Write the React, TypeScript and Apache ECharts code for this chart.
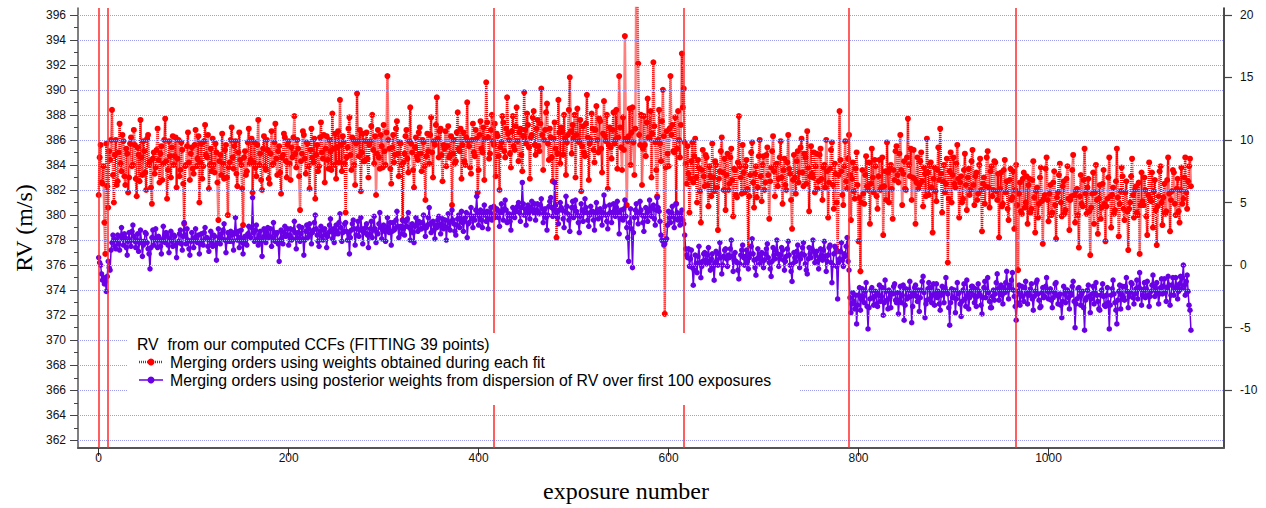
import { useEffect, useRef } from "react";
import * as echarts from "echarts";

// one stored value per exposure, starting at exposure 0
const EXPOSURE_STEP = 1;

// RV (m/s), merging orders using weights obtained during each fit
const RED_RV = [
  381.6, 384.6, 385.6, 382.6, 382.5, 383.9, 379.4, 376.9, 385.7, 382.3, 380.6, 385.1, 384.4, 386.0, 388.4, 383.2, 381.0, 384.8, 386.0, 382.4,
  382.7, 385.0, 387.3, 384.1, 383.5, 386.4, 385.9, 383.1, 382.4, 385.3, 384.9, 381.8, 383.0, 385.7, 386.2, 383.9, 384.0, 386.8, 385.6, 382.9,
  381.5, 385.4, 384.8, 382.7, 387.6, 384.6, 383.2, 385.9, 385.1, 383.4, 382.0, 386.1, 386.4, 384.0, 384.3, 382.2, 380.9, 384.5, 385.0, 383.3,
  383.8, 385.2, 386.9, 384.4, 382.6, 384.9, 385.5, 382.8, 384.1, 386.0, 387.7, 384.3, 381.3, 383.6, 385.9, 384.7, 383.0, 385.4, 386.3, 384.0,
  384.7, 386.2, 382.2, 384.5, 386.0, 383.1, 383.6, 385.8, 385.2, 382.5, 379.3, 383.9, 384.0, 385.5, 386.6, 384.2, 382.8, 384.9, 385.4, 383.7,
  383.3, 385.6, 386.8, 383.9, 384.5, 386.3, 381.0, 384.2, 385.7, 382.9, 383.9, 385.9, 387.2, 384.8, 384.6, 386.4, 382.1, 384.0, 385.3, 383.5,
  386.1, 384.0, 383.4, 385.7, 385.0, 382.6, 379.6, 384.3, 384.8, 383.2, 386.5, 384.1, 382.9, 385.2, 385.6, 383.0, 380.0, 383.8, 384.2, 386.0,
  387.0, 384.6, 383.7, 385.5, 385.9, 383.3, 382.3, 385.0, 386.6, 384.4, 384.0, 382.1, 379.2, 384.6, 385.1, 383.2, 383.5, 385.8, 386.9, 384.1,
  384.4, 386.1, 381.8, 384.2, 385.8, 383.8, 383.1, 385.6, 387.6, 384.0, 384.9, 382.8, 382.0, 385.3, 386.3, 383.9, 383.6, 386.0, 385.2, 382.9,
  382.5, 384.9, 386.7, 384.0, 384.1, 385.8, 387.3, 384.5, 383.2, 385.1, 385.5, 383.4, 381.7, 384.6, 384.8, 386.5, 386.2, 384.3, 383.0, 385.6,
  385.9, 384.1, 382.8, 385.4, 384.6, 386.2, 387.9, 384.9, 383.8, 386.0, 385.3, 383.1, 380.4, 384.3, 384.9, 386.7, 386.4, 384.5, 383.3, 385.8,
  385.7, 383.9, 382.1, 385.2, 386.9, 384.6, 384.2, 386.1, 381.3, 384.8, 385.6, 383.5, 383.9, 386.2, 387.4, 385.0, 384.5, 386.4, 382.6, 385.3,
  386.3, 384.4, 383.7, 386.0, 385.1, 383.6, 388.1, 385.3, 384.0, 386.5, 382.9, 385.4, 386.7, 384.2, 389.2, 385.6, 383.5, 386.3, 385.8, 384.1,
  380.2, 384.6, 385.4, 386.9, 387.8, 384.8, 383.6, 386.2, 386.0, 384.0, 382.4, 385.7, 389.7, 385.9, 384.7, 386.8, 381.9, 385.0, 386.5, 384.3,
  384.3, 385.9, 386.6, 384.5, 383.0, 385.6, 385.9, 387.1, 388.0, 385.2, 384.1, 386.3, 381.6, 384.9, 386.8, 384.6, 383.7, 386.4, 385.5, 383.8,
  387.2, 385.1, 384.0, 386.6, 391.1, 386.0, 385.3, 383.7, 382.5, 385.4, 386.4, 384.2, 384.8, 386.9, 387.5, 384.9, 383.1, 385.8, 385.7, 384.0,
  379.6, 384.2, 384.9, 386.3, 386.8, 384.5, 383.4, 385.9, 388.6, 385.7, 385.0, 383.6, 382.2, 385.4, 386.2, 384.7, 384.4, 386.6, 387.0, 384.9,
  383.5, 386.0, 385.8, 383.9, 381.2, 384.7, 386.5, 385.1, 384.1, 386.4, 387.8, 385.0, 383.0, 385.9, 385.6, 387.2, 389.4, 386.1, 384.6, 386.7,
  386.9, 384.8, 382.7, 385.6, 385.3, 386.7, 383.9, 385.5, 387.1, 384.6, 384.8, 386.3, 380.8, 384.9, 386.0, 384.1, 384.3, 386.6, 388.2, 385.3,
  385.1, 386.9, 382.9, 385.6, 386.6, 384.3, 384.0, 386.2, 389.0, 385.9, 385.5, 383.8, 383.3, 386.0, 387.3, 385.0, 384.7, 386.8, 386.1, 381.8,
  383.6, 386.4, 387.5, 385.3, 385.0, 387.0, 382.8, 386.1, 390.6, 387.4, 386.2, 384.5, 384.9, 386.8, 388.0, 385.9, 385.6, 387.3, 383.1, 386.5,
  386.3, 384.7, 382.0, 385.4, 385.8, 387.9, 387.4, 385.1, 384.6, 386.9, 389.4, 386.5, 386.0, 384.9, 383.8, 386.7, 387.9, 385.5, 385.2, 387.1,
  388.6, 385.9, 384.3, 386.6, 386.9, 384.8, 383.5, 386.3, 389.8, 386.8, 385.7, 388.1, 387.2, 385.4, 382.9, 386.2, 386.4, 387.8, 388.3, 385.6,
  384.8, 386.9, 387.6, 385.5, 385.1, 387.3, 390.1, 386.4, 383.6, 386.0, 386.8, 388.2, 388.9, 385.7, 384.4, 386.9, 386.2, 384.6, 382.7, 386.1,
  387.4, 385.3, 378.2, 384.9, 389.2, 386.6, 384.1, 387.0, 386.7, 384.8, 388.0, 386.1, 383.2, 385.8, 386.4, 388.4, 391.0, 386.7, 384.9, 387.2,
  386.1, 388.0, 383.0, 386.4, 388.5, 385.9, 385.8, 387.6, 381.9, 385.5, 387.1, 385.0, 384.7, 387.3, 389.6, 386.2, 382.8, 385.7, 386.0, 388.1,
  386.9, 385.2, 384.2, 386.8, 388.7, 386.0, 385.0, 387.7, 387.5, 385.3, 383.4, 386.5, 389.1, 386.3, 385.9, 388.0, 382.1, 385.6, 387.0, 385.4,
  384.5, 386.8, 388.2, 385.7, 386.0, 388.4, 383.7, 386.2, 391.1, 387.0, 385.4, 383.6, 387.8, 385.2, 394.3, 386.1, 380.8, 385.9, 386.3, 388.5,
  384.0, 386.6, 388.6, 385.8, 383.2, 386.9, 398.5, 399.0, 392.1, 386.4, 385.6, 388.0, 382.4, 385.3, 387.9, 385.6, 384.7, 387.4, 389.3, 386.2,
  386.1, 388.3, 383.0, 386.5, 392.2, 387.1, 385.8, 383.6, 381.5, 386.0, 388.4, 385.7, 384.3, 387.5, 390.0, 386.3, 372.1, 383.8, 386.7, 384.9,
  383.9, 386.9, 391.1, 386.4, 387.2, 385.1, 385.0, 387.8, 380.9, 385.3, 388.3, 386.0, 384.6, 387.2, 392.9, 388.6, 390.1, 385.8, 384.1, 382.5,
  385.5, 383.3, 380.2, 382.9, 384.3, 385.8, 382.6, 384.7, 386.1, 383.0, 381.0, 384.4, 383.8, 381.9, 379.4, 383.6, 385.2, 383.1, 382.3, 384.8,
  384.6, 382.4, 380.7, 383.9, 383.1, 381.5, 385.7, 383.0, 381.9, 384.3, 384.0, 382.2, 378.8, 382.9, 383.5, 385.1, 386.2, 383.4, 382.0, 384.5,
  380.4, 383.2, 384.9, 382.0, 382.5, 384.6, 385.3, 382.8, 379.9, 383.7, 383.6, 381.6, 381.4, 384.2, 387.9, 383.9, 383.0, 381.7, 385.6, 383.4,
  381.8, 383.9, 384.4, 382.1, 376.8, 381.5, 383.2, 385.0, 385.8, 382.6, 380.6, 383.3, 383.9, 381.4, 382.2, 384.7, 386.0, 383.1, 381.1, 384.0,
  384.7, 382.0, 382.6, 384.8, 385.4, 383.2, 379.7, 382.7, 383.8, 385.1, 386.3, 383.5, 381.5, 384.0, 384.1, 382.3, 382.9, 384.6, 385.9, 383.0,
  380.9, 383.6, 384.5, 382.4, 382.0, 384.2, 386.4, 383.7, 383.3, 381.2, 378.9, 382.8, 384.8, 383.0, 381.7, 384.3, 385.1, 382.6, 383.4, 385.4,
  386.1, 383.4, 382.3, 384.9, 384.6, 382.5, 386.7, 383.8, 380.3, 383.1, 385.5, 383.3, 383.0, 385.0, 381.8, 383.9, 384.9, 382.1, 382.7, 384.8,
  385.3, 382.9, 381.2, 383.8, 384.0, 382.2, 386.0, 383.5, 379.8, 382.6, 383.7, 385.2, 385.8, 382.4, 380.5, 384.1, 383.3, 381.0, 377.1, 383.2,
  388.3, 384.4, 383.5, 381.6, 380.8, 383.9, 385.9, 382.7, 382.1, 384.5, 386.4, 383.2, 379.6, 382.9, 384.2, 381.9, 381.3, 383.7, 385.0, 382.4,
  377.9, 381.4, 375.5, 381.0, 383.6, 381.7, 380.9, 383.2, 384.7, 382.3, 382.0, 384.2, 379.3, 382.5, 385.3, 383.0, 381.8, 384.4, 383.9, 381.5,
  380.5, 383.1, 384.4, 382.0, 382.2, 384.6, 378.4, 382.3, 383.5, 381.2, 385.8, 383.4, 381.0, 383.7, 384.0, 382.1, 379.7, 383.6, 382.8, 385.1,
  385.5, 383.2, 382.6, 384.9, 386.4, 383.6, 380.8, 383.3, 384.3, 382.1, 382.0, 384.6, 387.7, 384.0, 383.1, 385.3, 381.2, 383.0, 385.2, 382.9,
  379.3, 382.6, 384.6, 382.1, 382.4, 384.3, 385.0, 382.7, 380.7, 383.8, 383.3, 381.5, 386.1, 383.4, 381.6, 384.0, 384.2, 382.2, 378.6, 382.9,
  383.8, 381.9, 381.1, 383.6, 385.4, 382.8, 386.9, 383.3, 380.2, 382.7, 384.0, 381.8, 382.5, 384.5, 376.2, 381.3, 383.5, 385.0, 381.0, 383.2,
  384.6, 382.5, 382.2, 384.1, 385.6, 382.9, 379.8, 382.6, 383.1, 381.0, 381.3, 383.6, 384.9, 382.4, 380.4, 383.0, 383.7, 381.6, 382.0, 384.3,
  385.2, 382.4, 380.8, 383.1, 383.4, 381.2, 381.7, 384.0, 384.5, 382.0, 378.7, 382.5, 383.0, 380.9, 382.3, 384.6, 385.1, 382.2, 380.6, 383.5,
  383.9, 381.5, 382.0, 384.3, 384.2, 381.9, 381.2, 383.3, 378.2, 382.1, 383.4, 380.7, 380.9, 383.6, 384.4, 381.8, 382.7, 380.5, 379.6, 382.8,
  383.7, 381.2, 381.4, 383.5, 378.9, 382.0, 384.0, 380.8, 375.6, 381.7, 382.6, 380.3, 380.1, 382.9, 383.4, 380.6, 381.0, 383.1, 379.3, 382.4,
  382.9, 380.2, 380.5, 382.8, 384.3, 381.4, 378.6, 381.9, 382.2, 379.8, 380.9, 383.0, 383.8, 381.1, 377.7, 381.3, 381.6, 383.7, 384.6, 381.2,
  379.5, 381.7, 382.4, 380.0, 380.2, 382.6, 383.5, 380.8, 378.1, 381.4, 381.8, 383.2, 384.1, 381.0, 379.9, 382.3, 382.7, 380.1, 380.4, 382.9,
  383.9, 381.3, 378.8, 381.2, 381.5, 383.6, 384.8, 381.6, 379.4, 381.9, 382.1, 380.0, 377.4, 381.5, 383.2, 380.9, 380.7, 382.8, 385.3, 381.7,
  380.1, 382.2, 382.9, 380.3, 376.8, 380.6, 381.7, 383.4, 379.3, 381.8, 384.0, 381.2, 378.5, 381.3, 382.4, 379.7, 380.6, 382.5, 383.6, 380.9,
  377.9, 380.7, 381.3, 383.0, 384.6, 381.5, 379.0, 381.6, 382.2, 380.1, 380.4, 382.7, 385.3, 381.4, 378.3, 380.9, 381.9, 383.8, 383.1, 380.5,
  379.6, 381.8, 382.7, 380.3, 377.2, 380.5, 381.0, 383.1, 384.5, 381.6, 379.8, 382.0, 382.3, 380.2, 380.0, 382.6, 376.9, 380.8, 383.4, 381.1,
  380.8, 383.0, 382.0, 379.9, 378.4, 381.6, 384.2, 381.3, 381.1, 383.4, 379.0, 381.9, 382.8, 380.4, 377.6, 380.7, 381.5, 383.5, 383.9, 381.0,
  379.2, 381.4, 382.5, 380.1, 380.3, 382.8, 384.6, 381.7, 378.7, 381.2, 381.9, 383.6, 383.4, 380.9, 380.0, 382.1, 382.9, 380.3, 379.4, 382.0,
  383.8, 380.9, 381.3, 383.0, 384.6, 381.8, 380.5, 382.7, 383.9, 384.5, 382.3,
];

// RV (m/s), merging orders using posterior weights
const PURPLE_RV = [
  376.6, 376.2, 376.0, 375.3, 374.8, 375.0, 374.5, 374.7, 373.9, 375.1, 376.3, 375.8, 375.6, 377.2, 377.8, 378.4, 378.1, 377.5, 377.3, 378.0,
  378.4, 377.7, 377.2, 378.3, 379.0, 378.1, 377.6, 378.5, 378.2, 377.4, 376.8, 377.9, 378.6, 378.0, 377.5, 378.7, 379.2, 378.3, 377.9, 377.4,
  378.0, 378.5, 377.1, 377.8, 378.8, 377.9, 376.7, 377.6, 377.9, 378.6, 378.5, 377.8, 377.3, 376.9, 375.7, 377.4, 378.2, 378.8, 377.6, 378.1,
  378.9, 378.0, 377.4, 378.3, 378.1, 377.5, 376.9, 377.9, 379.1, 378.2, 377.8, 378.6, 378.4, 377.6, 377.0, 378.1, 378.7, 377.9, 377.5, 378.4,
  378.3, 377.6, 376.6, 377.8, 377.9, 378.5, 378.8, 377.7, 377.2, 378.3, 379.4, 378.4, 377.7, 378.9, 378.0, 377.3, 376.8, 377.9, 378.6, 378.0,
  377.4, 378.2, 378.9, 378.0, 377.8, 378.4, 376.9, 377.7, 378.5, 377.9, 377.6, 378.6, 379.0, 378.1, 378.2, 377.5, 377.1, 378.0, 378.7, 377.8,
  377.5, 378.4, 378.3, 377.6, 376.4, 377.8, 378.9, 378.2, 377.7, 378.5, 378.1, 378.8, 379.3, 378.0, 377.0, 377.9, 378.6, 378.1, 377.9, 378.7,
  378.4, 377.9, 377.2, 378.6, 379.8, 378.5, 378.0, 378.7, 377.4, 378.2, 378.8, 377.8, 376.9, 378.1, 378.3, 377.7, 377.6, 378.5, 379.1, 378.3,
  378.2, 379.0, 381.4, 378.6, 377.9, 378.8, 379.2, 378.1, 377.6, 378.4, 378.7, 377.9, 376.7, 378.2, 378.9, 378.4, 377.8, 378.6, 379.0, 378.2,
  378.3, 378.9, 377.5, 378.2, 379.4, 378.6, 377.9, 378.5, 378.6, 377.7, 376.3, 378.0, 378.8, 378.2, 377.7, 378.6, 379.1, 378.3, 378.4, 378.9,
  377.6, 378.4, 378.9, 378.0, 378.1, 378.8, 379.5, 378.6, 377.3, 378.2, 378.6, 379.1, 377.9, 378.5, 379.0, 378.1, 376.8, 378.0, 378.7, 379.2,
  378.2, 378.9, 379.3, 378.5, 377.7, 378.6, 378.8, 379.4, 380.0, 378.9, 378.4, 377.9, 377.5, 378.7, 379.1, 378.3, 378.0, 378.8, 378.9, 378.4,
  377.4, 378.3, 378.6, 379.2, 379.7, 378.8, 378.1, 378.9, 377.8, 378.5, 379.2, 378.7, 378.5, 379.4, 380.1, 379.0, 377.9, 378.6, 378.7, 379.3,
  379.4, 378.7, 378.0, 378.6, 376.9, 378.2, 378.8, 379.3, 379.6, 378.9, 377.6, 378.4, 378.9, 379.5, 378.3, 378.8, 379.8, 378.9, 377.7, 378.6,
  378.6, 379.0, 379.3, 378.4, 377.4, 378.5, 378.9, 379.5, 378.2, 378.8, 379.9, 378.9, 377.8, 378.6, 378.5, 379.3, 380.2, 379.0, 378.1, 378.8,
  379.2, 378.7, 377.9, 378.9, 379.8, 379.0, 378.6, 379.4, 377.6, 378.7, 379.4, 378.8, 378.9, 379.6, 380.3, 379.1, 378.2, 379.0, 379.1, 378.5,
  379.6, 378.9, 378.4, 379.5, 379.1, 379.7, 380.2, 379.0, 378.0, 378.8, 379.3, 378.6, 377.8, 379.1, 379.8, 379.2, 378.7, 379.5, 379.4, 378.9,
  378.9, 379.4, 380.0, 379.1, 378.3, 379.0, 379.2, 379.8, 380.6, 379.3, 378.6, 379.4, 379.5, 378.8, 378.1, 379.2, 379.0, 379.6, 379.9, 379.2,
  378.5, 379.3, 379.7, 378.9, 379.1, 379.6, 378.0, 379.0, 380.1, 379.4, 378.8, 379.5, 380.4, 379.6, 379.3, 378.7, 378.4, 379.2, 379.7, 380.0,
  379.0, 379.7, 380.3, 379.4, 378.7, 379.5, 379.8, 380.2, 378.2, 379.3, 379.4, 380.0, 380.6, 379.7, 379.0, 379.9, 379.6, 380.4, 381.5, 380.1,
  379.2, 379.9, 380.4, 379.6, 379.0, 380.1, 380.8, 380.0, 379.5, 380.3, 378.9, 379.7, 380.2, 380.6, 379.6, 380.0, 380.7, 379.8, 379.9, 380.5,
  380.4, 379.8, 379.1, 380.2, 380.9, 380.3, 379.6, 380.5, 381.2, 380.4, 379.4, 380.0, 380.1, 379.5, 378.8, 379.9, 380.6, 380.1, 379.8, 380.4,
  380.3, 380.7, 381.0, 380.2, 379.5, 380.6, 382.6, 380.9, 380.0, 380.5, 379.2, 380.1, 380.8, 380.3, 379.7, 380.6, 381.1, 380.4, 380.2, 380.9,
  379.6, 380.4, 380.9, 380.2, 380.1, 380.8, 381.3, 380.5, 379.4, 380.2, 380.5, 379.8, 378.8, 380.0, 380.7, 381.1, 381.4, 380.6, 379.9, 380.5,
  382.6, 380.8, 380.2, 379.8, 379.3, 380.4, 381.0, 380.6, 380.4, 379.7, 379.0, 380.3, 381.5, 380.7, 380.1, 379.6, 378.7, 379.9, 380.6, 381.1,
  379.8, 380.6, 381.2, 380.3, 380.0, 379.4, 378.6, 379.9, 380.9, 380.4, 379.5, 380.2, 381.3, 380.6, 380.2, 379.6, 379.1, 380.0, 380.7, 380.3,
  380.3, 379.6, 378.8, 380.1, 381.0, 380.4, 379.7, 380.3, 380.5, 379.9, 379.2, 380.2, 381.6, 380.7, 380.0, 379.5, 378.9, 380.1, 380.8, 380.2,
  379.4, 380.2, 380.9, 380.3, 379.9, 380.6, 381.1, 380.2, 378.5, 379.7, 380.4, 379.8, 379.6, 380.5, 381.2, 379.9, 379.0, 378.2, 376.3, 379.4,
  380.5, 378.9, 375.8, 378.6, 379.8, 380.4, 380.9, 380.1, 379.3, 380.2, 381.1, 380.4, 380.0, 379.4, 378.7, 379.9, 380.6, 380.0, 379.5, 380.3,
  381.2, 380.5, 379.9, 380.6, 380.8, 379.7, 379.2, 380.4, 381.4, 380.6, 380.3, 379.5, 378.4, 378.0, 377.9, 377.6, 377.7, 378.0, 378.1, 379.2,
  380.3, 379.8, 379.4, 380.2, 380.7, 379.9, 379.0, 379.7, 380.9, 380.2, 379.6, 380.1, 379.2, 379.8, 380.4, 379.6, 379.3, 378.4, 377.3, 376.8,
  376.6, 377.3, 375.9, 376.5, 377.2, 375.8, 374.4, 375.6, 376.8, 376.1, 375.4, 376.7, 377.5, 376.2, 375.0, 375.9, 376.3, 376.9, 377.0, 376.4,
  376.1, 376.8, 377.4, 376.3, 375.6, 376.5, 376.9, 375.9, 374.8, 376.2, 377.1, 376.4, 376.0, 376.9, 377.8, 376.6, 375.3, 376.0, 376.7, 377.2,
  377.3, 376.5, 375.9, 376.8, 376.6, 377.3, 378.0, 376.7, 375.5, 376.4, 377.0, 376.3, 376.2, 375.6, 374.9, 376.1, 376.8, 377.2, 377.6, 376.6,
  376.0, 376.7, 377.2, 376.3, 375.7, 376.6, 376.9, 377.5, 378.1, 376.9, 376.4, 375.8, 375.2, 376.5, 377.3, 376.6, 376.1, 376.8, 377.0, 376.4,
  375.8, 376.4, 376.9, 377.3, 377.7, 376.6, 376.2, 375.7, 375.1, 376.3, 377.4, 376.8, 376.5, 377.2, 378.0, 376.9, 375.9, 376.5, 376.8, 377.4,
  377.2, 376.4, 375.6, 376.3, 376.7, 377.3, 377.9, 376.8, 376.0, 375.5, 374.7, 376.1, 377.0, 376.6, 376.3, 377.1, 377.6, 376.7, 375.8, 376.5,
  376.9, 377.4, 377.8, 376.8, 376.1, 375.6, 375.3, 376.5, 377.4, 376.9, 376.6, 377.3, 378.0, 377.1, 376.2, 376.8, 377.1, 376.3, 375.7, 376.6,
  377.3, 376.8, 376.4, 377.2, 377.9, 376.7, 375.5, 376.3, 376.8, 377.4, 377.6, 376.2, 374.6, 376.0, 376.9, 377.5, 377.4, 375.9, 373.3, 376.2,
  376.5, 377.1, 377.8, 376.4, 375.9, 376.9, 376.7, 377.5, 378.2, 376.3, 375.6, 373.4, 372.2, 372.9, 373.8, 373.1, 372.5, 373.6, 371.3, 372.8,
  373.6, 374.2, 372.4, 373.3, 374.1, 373.5, 373.0, 373.9, 374.6, 372.7, 370.9, 372.6, 373.3, 374.0, 374.2, 373.4, 372.8, 373.5, 373.9, 372.9,
  372.7, 373.6, 374.4, 373.1, 373.5, 374.2, 372.0, 373.0, 374.8, 373.9, 373.2, 372.5, 374.0, 373.4, 372.6, 373.8, 373.7, 374.3, 374.5, 373.2,
  373.0, 373.8, 372.1, 373.2, 374.3, 373.0, 373.6, 374.4, 371.6, 372.8, 374.1, 373.3, 373.4, 374.0, 374.7, 373.5, 371.4, 372.7, 373.8, 374.2,
  374.4, 373.5, 373.1, 374.0, 372.3, 373.4, 374.0, 374.7, 375.1, 373.8, 371.8, 372.9, 373.2, 374.1, 374.6, 373.3, 374.2, 373.0, 373.6, 374.5,
  372.8, 373.7, 374.5, 373.4, 373.9, 372.9, 372.4, 373.6, 374.3, 373.8, 373.0, 374.2, 375.0, 373.9, 373.7, 372.6, 371.2, 373.0, 374.1, 373.4,
  373.4, 374.0, 372.2, 373.3, 374.6, 373.7, 373.8, 372.9, 371.9, 373.1, 374.0, 374.5, 373.3, 372.7, 374.8, 373.6, 372.5, 373.4, 373.9, 374.3,
  374.3, 373.6, 373.0, 374.1, 372.7, 373.5, 374.5, 373.9, 373.6, 372.8, 372.1, 373.4, 374.2, 374.7, 373.4, 374.0, 375.0, 373.8, 373.1, 372.6,
  372.6, 373.5, 374.0, 373.2, 373.7, 374.6, 375.3, 374.1, 373.2, 373.9, 374.4, 373.6, 372.9, 374.2, 373.8, 374.6, 375.5, 374.0, 373.3, 374.4,
  374.1, 374.8, 375.4, 374.0, 373.5, 372.7, 371.6, 373.0, 373.9, 374.4, 372.8, 373.6, 374.3, 373.5, 373.1, 374.2, 374.7, 373.7, 372.9, 373.8,
  373.6, 374.1, 374.5, 373.3, 372.4, 373.5, 373.9, 374.6, 374.8, 373.7, 373.2, 372.6, 372.7, 373.8, 374.2, 373.4, 373.5, 374.3, 375.0, 373.9,
  373.3, 373.9, 374.1, 373.2, 372.6, 373.4, 373.8, 374.5, 374.6, 373.6, 372.9, 373.5, 373.7, 372.8, 371.8, 373.1, 374.3, 373.7, 373.0, 374.0,
  374.0, 373.4, 372.5, 373.8, 373.6, 374.3, 374.7, 373.1, 371.0, 372.9, 373.3, 374.1, 374.2, 373.5, 372.8, 373.7, 373.9, 372.6, 370.8, 373.2,
  373.4, 374.0, 374.4, 373.5, 372.2, 373.3, 373.7, 374.3, 372.9, 373.8, 374.6, 373.6, 373.1, 372.5, 372.4, 373.6, 374.0, 374.5, 373.5, 372.8,
  372.7, 373.6, 374.2, 373.0, 370.9, 372.8, 373.6, 374.1, 374.8, 373.7, 373.0, 372.4, 371.3, 373.2, 373.9, 374.4, 372.5, 373.6, 374.3, 373.4,
  373.2, 374.3, 375.0, 373.9, 372.6, 373.5, 373.8, 374.6, 374.5, 373.4, 372.9, 373.7, 374.1, 374.8, 373.3, 374.2, 375.4, 374.1, 372.8, 373.6,
  374.0, 374.6, 373.4, 374.1, 374.7, 373.6, 372.7, 373.5, 373.9, 374.4, 375.2, 374.3, 373.5, 374.0, 374.6, 373.8, 372.9, 373.7, 374.2, 374.9,
  373.7, 374.3, 374.9, 373.8, 373.1, 374.2, 375.1, 374.4, 372.8, 373.6, 374.4, 375.0, 373.6, 374.1, 375.0, 374.2, 373.3, 373.9, 374.5, 375.1,
  374.1, 375.0, 376.0, 374.4, 373.6, 374.7, 375.2, 373.9, 372.8, 372.4, 370.8,
];

// exposures marked with vertical red lines
const BOUNDARY_EXPOSURES = [0, 10, 416, 616, 790, 966];

const LEFT_TICKS = [362, 364, 366, 368, 370, 372, 374, 376, 378, 380, 382, 384, 386, 388, 390, 392, 394, 396];
const LEFT_MINOR_TICKS = [363, 365, 367, 369, 371, 373, 375, 377, 379, 381, 383, 385, 387, 389, 391, 393, 395];
const RIGHT_TICKS = [-10, -5, 0, 5, 10, 15, 20];
const X_TICKS = [0, 200, 400, 600, 800, 1000];

const RIGHT_OFFSET = 376;
const Y_MIN = 361.39;
const Y_MAX = 396.54;
const X_MIN = -21.8;
const X_MAX = 1184.8;

const RED_NAME = "Merging orders using weights obtained during each fit";
const PURPLE_NAME = "Merging orders using posterior weights from dispersion of RV over first 100 exposures";
const LEGEND_TITLE = "RV  from our computed CCFs (FITTING 39 points)";

const RED = "#ff0000";
const PURPLE = "#6a00e6";
const SANS = '"Liberation Sans", Arial, Helvetica, sans-serif';
const SERIF = '"Liberation Serif", "Times New Roman", serif';
const LEGEND_FONT = 15.8;

const toPoints = (arr: number[]) => arr.map((v, i) => [i * EXPOSURE_STEP, v]);

export default function App() {
  const ref = useRef<HTMLDivElement>(null);
  useEffect(() => {
    if (!ref.current) return;
    const chart = echarts.init(ref.current, null, { renderer: "svg" });
    const labelStyle = { fontSize: 12, color: "#111", fontFamily: SANS };
    const legendText = (x: number, y: number, text: string) => ({
      type: "text",
      z: 101,
      x,
      y,
      style: { text, fontSize: LEGEND_FONT, fontFamily: SANS, fill: "#000", verticalAlign: "middle", textVerticalAlign: "middle" },
    });
    chart.setOption({
      animation: false,
      backgroundColor: "#fff",
      grid: { left: 78, right: 42, top: 8, bottom: 60, containLabel: false },
      xAxis: {
        type: "value",
        min: X_MIN,
        max: X_MAX,
        axisLine: { show: true, onZero: false, lineStyle: { color: "#555", width: 2 } },
        axisTick: { show: true, customValues: X_TICKS, length: 8, lineStyle: { color: "#333", width: 1 } },
        axisLabel: { customValues: X_TICKS, margin: 4, formatter: (v: number) => String(v), ...labelStyle },
        splitLine: { show: false },
      },
      yAxis: [
        {
          type: "value",
          position: "left",
          min: Y_MIN,
          max: Y_MAX,
          axisLine: { show: true, onZero: false, lineStyle: { color: "#555", width: 1.5 } },
          axisTick: { show: true, customValues: LEFT_TICKS, length: 8, lineStyle: { color: "#444", width: 1 } },
          axisLabel: { customValues: LEFT_TICKS, margin: 12, ...labelStyle },
          splitLine: { show: false },
        },
        {
          type: "value",
          position: "right",
          min: Y_MIN - RIGHT_OFFSET,
          max: Y_MAX - RIGHT_OFFSET,
          axisLine: { show: true, onZero: false, lineStyle: { color: "#111", width: 1.5 } },
          axisTick: { show: true, customValues: RIGHT_TICKS, length: 8, lineStyle: { color: "#444", width: 1.2 } },
          axisLabel: { customValues: RIGHT_TICKS, margin: 16, ...labelStyle },
          splitLine: { show: false },
        },
        {
          type: "value",
          position: "left",
          min: Y_MIN,
          max: Y_MAX,
          axisLine: { show: false, onZero: false },
          axisTick: { show: true, customValues: LEFT_MINOR_TICKS, length: 4, lineStyle: { color: "#444", width: 1 } },
          axisLabel: { show: false },
          splitLine: { show: false },
        },
      ],
      series: [
        {
          type: "line",
          data: [],
          silent: true,
          z: 1,
          markLine: {
            silent: true,
            symbol: "none",
            label: { show: false },
            emphasis: { disabled: true },
            lineStyle: { color: "#9c9cf2", width: 1, type: [1, 1] },
            data: LEFT_TICKS.map((v) => ({ yAxis: v })),
          },
        },
        {
          type: "line",
          data: [],
          silent: true,
          z: 1,
          markLine: {
            silent: true,
            symbol: "none",
            label: { show: false },
            emphasis: { disabled: true },
            lineStyle: { color: "#ff2a2a", width: 1.5, type: "solid" },
            data: BOUNDARY_EXPOSURES.map((v) => ({ xAxis: v })),
          },
        },
        {
          name: RED_NAME,
          type: "line",
          data: toPoints(RED_RV),
          symbol: "circle",
          symbolSize: 6,
          showSymbol: true,
          z: 2,
          itemStyle: { color: RED },
          lineStyle: { color: RED, width: 2.5, type: [1, 1] },
          emphasis: { disabled: true },
          silent: true,
        },
        {
          name: PURPLE_NAME,
          type: "line",
          data: toPoints(PURPLE_RV),
          symbol: "circle",
          symbolSize: 5.5,
          showSymbol: true,
          z: 3,
          itemStyle: { color: PURPLE },
          lineStyle: { color: PURPLE, width: 1.5 },
          emphasis: { disabled: true },
          silent: true,
        },
      ],
      graphic: [
        { type: "rect", z: 100, silent: true, shape: { x: 128, y: 333, width: 672, height: 72 }, style: { fill: "#fff" } },
        legendText(137, 344, LEGEND_TITLE),
        { type: "line", z: 101, shape: { x1: 139, y1: 362, x2: 163, y2: 362 }, style: { stroke: RED, lineWidth: 2.5, lineDash: [1, 1] } },
        { type: "circle", z: 102, shape: { cx: 151, cy: 362, r: 3.5 }, style: { fill: RED } },
        legendText(170, 362, RED_NAME),
        { type: "line", z: 101, shape: { x1: 139, y1: 380, x2: 163, y2: 380 }, style: { stroke: PURPLE, lineWidth: 1.5 } },
        { type: "circle", z: 102, shape: { cx: 151, cy: 380, r: 3.5 }, style: { fill: PURPLE } },
        legendText(170, 380, PURPLE_NAME),
        { type: "text", z: 101, x: 24, y: 228, rotation: Math.PI / 2, style: { text: "RV (m/s)", fontSize: 24, fontFamily: SERIF, fill: "#000", align: "center", textAlign: "center", verticalAlign: "middle", textVerticalAlign: "middle" } },
        { type: "text", z: 101, x: 626, y: 491, style: { text: "exposure number", fontSize: 24, fontFamily: SERIF, fill: "#000", align: "center", textAlign: "center", verticalAlign: "middle", textVerticalAlign: "middle" } },
      ],
    });
    return () => chart.dispose();
  }, []);
  return (
    <div
      ref={ref}
      style={{ position: "fixed", left: 0, top: 0, width: 1266, height: 508, background: "#fff" }}
    />
  );
}
